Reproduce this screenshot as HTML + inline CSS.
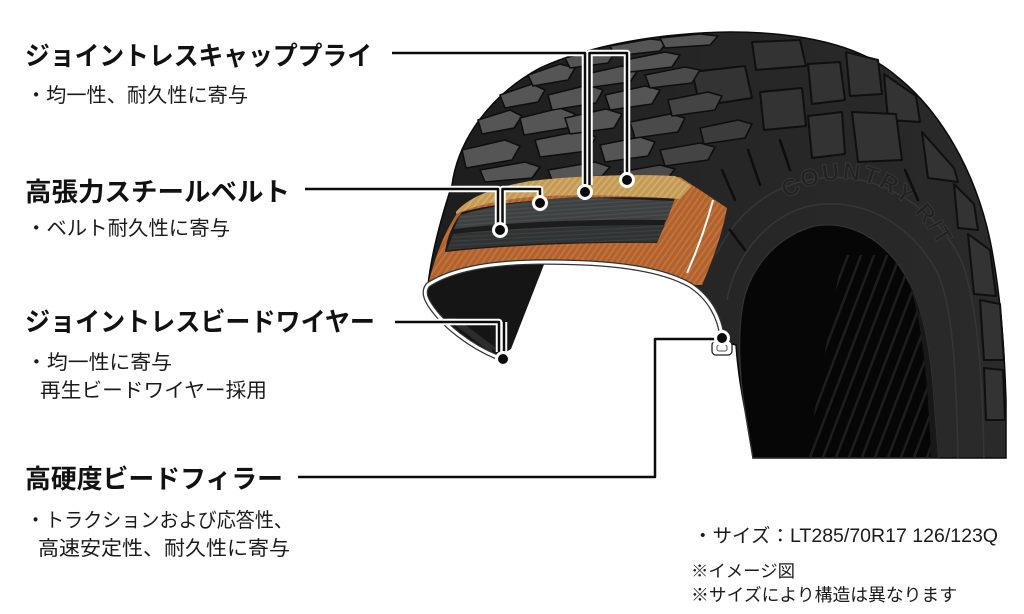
<!DOCTYPE html>
<html><head><meta charset="utf-8"><style>
html,body{margin:0;padding:0;background:#fff;}
svg{display:block;}
.t{font-family:"Liberation Sans","Noto Sans CJK JP",sans-serif;font-weight:700;fill:#111;}
.s{font-family:"Liberation Sans","Noto Sans CJK JP",sans-serif;font-weight:400;fill:#1a1a1a;}
</style></head><body>
<svg width="1024" height="614" viewBox="0 0 1024 614" xmlns="http://www.w3.org/2000/svg">
<defs>
<linearGradient id="gb" x1="430" y1="0" x2="1010" y2="0" gradientUnits="userSpaceOnUse">
<stop offset="0" stop-color="#1d1d1d"/><stop offset="0.5" stop-color="#262626"/><stop offset="1" stop-color="#2a2a2a"/></linearGradient>
<pattern id="po" width="5" height="5" patternUnits="userSpaceOnUse" patternTransform="rotate(35)">
<rect width="5" height="5" fill="#b1622e"/><rect width="1.6" height="5" fill="#c2773f"/></pattern>
<pattern id="pt" width="5" height="5" patternUnits="userSpaceOnUse" patternTransform="rotate(40)">
<rect width="5" height="5" fill="#c39b57"/><rect width="1.6" height="5" fill="#d4ae6b"/></pattern>
<pattern id="pb1" width="4" height="4" patternUnits="userSpaceOnUse" patternTransform="rotate(-4)">
<rect width="4" height="4" fill="#3e4141"/><rect width="4" height="1.2" fill="#4b4e4e"/></pattern>
<pattern id="pb2" width="4" height="4" patternUnits="userSpaceOnUse" patternTransform="rotate(-3)">
<rect width="4" height="4" fill="#303333"/><rect width="4" height="1.2" fill="#3c3f3f"/></pattern>
<clipPath id="hole"><path d="M753,458 L745,410 C740,380 736,330 745,295 C755,262 780,235 815,226 C850,220 885,240 905,275 C920,300 928,340 932,380 L938,458 Z"/></clipPath>
<clipPath id="stripe"><polygon points="842,255 960,255 960,460 806,460"/></clipPath>
<path id="arc" d="M772,212 C825,160 910,160 960,290"/>
</defs>

<!-- tire body -->
<path d="M452,185 C458,140 490,95 540,68 C590,45 660,33 730,32 C800,32 860,45 895,75 C940,110 975,170 990,240 C1000,290 1004,340 1006,400 L1006,458 L753,458 L745,410 C740,385 737,360 736,345 L725,342 C720,318 710,298 690,285 C660,268 610,262 545,262 C500,262 455,267 428,285 C432,250 442,215 452,185 Z" fill="url(#gb)" stroke="#0a0a0a" stroke-width="1.5"/>

<!-- right shoulder blocks -->
<g fill="#333" stroke="#0f0f0f" stroke-width="2" stroke-linejoin="round">
<polygon points="692,72 745,66 752,98 700,106"/>
<polygon points="752,42 800,40 806,66 756,70"/>
<polygon points="760,92 802,88 806,126 764,130"/>
<polygon points="808,64 840,62 845,100 812,104"/>
<polygon points="846,52 878,60 882,94 850,96"/>
<polygon points="884,74 916,96 920,122 888,120"/>
<polygon points="808,116 842,112 845,154 812,158"/>
<polygon points="852,112 896,114 902,160 858,162"/>
<polygon points="922,132 954,168 958,182 928,178"/>
<polygon points="954,184 974,204 978,230 958,228"/>
<polygon points="968,234 990,250 996,296 974,294"/>
<polygon points="980,300 1000,304 1004,360 984,360"/>
<polygon points="984,368 1003,370 1005,420 986,420"/>
</g>

<!-- sidewall rings -->
<g fill="none" stroke="#363636" stroke-width="1.5">
<path d="M727,300 C735,255 770,212 815,205 C865,198 912,225 937,272 C952,305 956,360 958,458"/>
<path d="M716,255 C740,205 780,182 822,178 C882,172 938,210 962,262 C977,305 982,365 984,458"/>
</g>
<text font-family="Liberation Sans,sans-serif" font-weight="700" font-size="24" fill="#222" stroke="#3a3a3a" stroke-width="0.8" letter-spacing="2"><textPath href="#arc" startOffset="20">COUNTRY   R/T</textPath></text>

<!-- left tread blocks -->
<g fill="#555" stroke="#0e0e0e" stroke-width="1.6" stroke-linejoin="round">
<polygon points="478,120 510,110 522,116 514,128 482,134"/>
<polygon points="500,95 532,84 545,90 538,102 505,108"/>
<polygon points="528,75 560,64 575,68 568,80 533,86"/>
<polygon points="565,58 600,49 615,52 608,63 570,68"/>
<polygon points="610,46 650,39 668,41 660,51 615,56"/>
<polygon points="660,38 700,34 718,36 710,45 665,48"/>
<polygon points="462,150 505,140 520,146 512,160 466,168"/>
<polygon points="520,118 560,108 575,114 567,128 524,135"/>
<polygon points="548,95 588,85 603,90 596,103 552,110"/>
<polygon points="582,75 622,66 638,70 630,82 586,88"/>
<polygon points="625,60 665,52 680,55 672,67 630,72"/>
<polygon points="480,170 525,162 540,167 532,178 485,182"/>
<polygon points="535,140 580,131 596,137 588,151 540,157"/>
<polygon points="565,118 606,109 622,114 614,128 570,134"/>
<polygon points="605,95 645,86 660,90 652,104 610,110"/>
<polygon points="645,75 685,67 700,70 692,83 650,88" fill="#4a4a4a"/>
<polygon points="548,170 595,162 610,167 602,176 552,180"/>
<polygon points="600,145 640,137 655,142 648,156 605,162"/>
<polygon points="630,122 670,114 685,118 678,132 635,138" fill="#4a4a4a"/>
<polygon points="668,100 708,92 722,96 715,110 672,116" fill="#444"/>
<polygon points="620,172 660,165 675,169 668,178 625,180" fill="#4a4a4a"/>
<polygon points="660,150 700,143 715,147 708,160 665,166" fill="#444"/>
<polygon points="700,128 738,120 752,124 745,138 704,144" fill="#3c3c3c"/>
</g>

<!-- right shoulder grooves -->
<g fill="none" stroke="#0d0d0d" stroke-width="2.5" stroke-linecap="round">
<path d="M722,170 L735,200"/><path d="M748,150 L760,185"/>
<path d="M730,230 L745,250"/><path d="M780,140 L790,170"/>
<path d="M905,170 L918,200"/>
</g>

<!-- hole -->
<path d="M753,458 L745,410 C740,380 736,330 745,295 C755,262 780,235 815,226 C850,220 885,240 905,275 C920,300 928,340 932,380 L938,458 Z" fill="#060606" stroke="#333" stroke-width="1.2"/>
<g clip-path="url(#hole)"><g clip-path="url(#stripe)" stroke="#1e1e1e" stroke-width="2.5">
<line x1="850" y1="250" x2="770" y2="460"/><line x1="863" y1="250" x2="783" y2="460"/>
<line x1="876" y1="250" x2="796" y2="460"/><line x1="889" y1="250" x2="809" y2="460"/>
<line x1="902" y1="250" x2="822" y2="460"/><line x1="915" y1="250" x2="835" y2="460"/>
<line x1="928" y1="250" x2="848" y2="460"/><line x1="941" y1="250" x2="861" y2="460"/>
<line x1="954" y1="250" x2="874" y2="460"/><line x1="967" y1="250" x2="887" y2="460"/>
<line x1="980" y1="250" x2="900" y2="460"/><line x1="993" y1="250" x2="913" y2="460"/>
<line x1="1006" y1="250" x2="926" y2="460"/><line x1="1019" y1="250" x2="939" y2="460"/>
</g>
<path d="M910,270 C925,310 932,360 936,458" fill="none" stroke="#181818" stroke-width="10"/>
</g>

<!-- cross section: carcass -->
<path d="M428,285 C433,265 442,235 458,212 L470,204 C550,185 620,176 680,177 L703,192 L727,208 C722,235 712,262 702,285 L690,285 C660,268 610,262 545,262 C500,262 455,267 428,285 Z" fill="url(#po)"/>
<path d="M713,200 C705,230 695,255 687,273" fill="none" stroke="#fff" stroke-width="2"/>
<!-- belts -->
<path d="M462,212 C500,202 560,195 675,198 L657,243 C590,242 510,245 445,252 C447,238 452,224 462,212 Z" fill="#1c1c1c"/>
<path d="M460,215 C490,206 530,200 575,197 L674,201 L667,220 C600,219 520,221 454,229 Z" fill="url(#pb1)"/>
<path d="M453,234 C520,227 600,225 665,225 L657,242 C590,241 510,244 447,250 Z" fill="url(#pb2)"/>
<!-- cap ply -->
<path d="M456,212 C468,198 490,188 530,181 C580,175 640,174 675,176 L692,186 L680,199 C620,195 570,194 530,197 C500,200 475,205 456,214 Z" fill="url(#pt)"/>

<!-- inner left sidewall -->
<path d="M428,285 C455,267 500,262 545,262 L511,349 L498,357 C470,346 443,325 430,305 C424,296 424,290 428,285 Z" fill="#151515"/>
<polygon points="446,318 456,318 496,348 490,352" fill="#2c2c2c"/>
<!-- inner liner arch -->
<path d="M497,357 C470,346 443,325 430,305 C424,296 424,290 428,285 C455,267 500,262 545,262 C610,262 660,268 690,285 C710,298 720,318 722,337" fill="none" stroke="#333" stroke-width="5.5"/>
<path d="M497,357 C470,346 443,325 430,305 C424,296 424,290 428,285 C455,267 500,262 545,262 C610,262 660,268 690,285 C710,298 720,318 722,337" fill="none" stroke="#fff" stroke-width="3"/>
<!-- right bead -->
<rect x="712" y="341" width="20" height="14" rx="4" fill="#fff" stroke="#222" stroke-width="1.3"/>
<rect x="717" y="345" width="10" height="6" rx="2" fill="none" stroke="#555" stroke-width="1"/>

<!-- connectors halo -->
<g fill="none" stroke="#fff" stroke-width="6.5" stroke-linejoin="round">
<path d="M392,53 H585 V190"/><path d="M589.5,185 V53 H627 V180"/>
<path d="M305,189 H498 V228"/><path d="M502.5,224 V189 H540 V203"/>
<path d="M395,322 H499 V352"/><path d="M504,354 V322"/>
<path d="M298,477 H655 V339 H716"/>
</g>
<g fill="none" stroke="#0a0a0a" stroke-width="2.5" stroke-linejoin="round">
<path d="M392,53 H585 V190"/><path d="M589.5,185 V53 H627 V180"/>
<path d="M305,189 H498 V228"/><path d="M502.5,224 V189 H540 V203"/>
<path d="M395,322 H499 V352"/><path d="M504,354 V322"/>
<path d="M298,477 H655 V339 H716"/>
</g>
<g fill="#0a0a0a" stroke="#fff" stroke-width="3">
<circle cx="585" cy="192" r="6.5"/><circle cx="627" cy="180" r="6.5"/>
<circle cx="540" cy="203" r="6.5"/><circle cx="500" cy="230" r="6.5"/>
<circle cx="503" cy="359" r="6.5"/><circle cx="722" cy="338" r="6.5"/>
</g>

<!-- left labels -->
<text class="t" x="25" y="65" font-size="26" textLength="347" lengthAdjust="spacingAndGlyphs">ジョイントレスキャッププライ</text>
<text class="s" x="26" y="102" font-size="20" textLength="222" lengthAdjust="spacingAndGlyphs">・均一性、耐久性に寄与</text>
<text class="t" x="25" y="201" font-size="26" textLength="265" lengthAdjust="spacingAndGlyphs">高張力スチールベルト</text>
<text class="s" x="26" y="235" font-size="20" textLength="204" lengthAdjust="spacingAndGlyphs">・ベルト耐久性に寄与</text>
<text class="t" x="25" y="331" font-size="26" textLength="350" lengthAdjust="spacingAndGlyphs">ジョイントレスビードワイヤー</text>
<text class="s" x="26" y="369" font-size="20" textLength="146" lengthAdjust="spacingAndGlyphs">・均一性に寄与</text>
<text class="s" x="40" y="397" font-size="20" textLength="227" lengthAdjust="spacingAndGlyphs">再生ビードワイヤー採用</text>
<text class="t" x="25" y="488" font-size="26" textLength="258" lengthAdjust="spacingAndGlyphs">高硬度ビードフィラー</text>
<text class="s" x="26" y="527" font-size="20" textLength="267" lengthAdjust="spacingAndGlyphs">・トラクションおよび応答性、</text>
<text class="s" x="38" y="555" font-size="20" textLength="252" lengthAdjust="spacingAndGlyphs">高速安定性、耐久性に寄与</text>

<!-- bottom right notes -->
<text class="s" x="693" y="542" font-size="19" textLength="305" lengthAdjust="spacingAndGlyphs">・サイズ：LT285/70R17 126/123Q</text>
<text class="s" x="691" y="577" font-size="17" textLength="104" lengthAdjust="spacingAndGlyphs">※イメージ図</text>
<text class="s" x="691" y="601" font-size="17.5" textLength="266" lengthAdjust="spacingAndGlyphs">※サイズにより構造は異なります</text>
</svg>
</body></html>
